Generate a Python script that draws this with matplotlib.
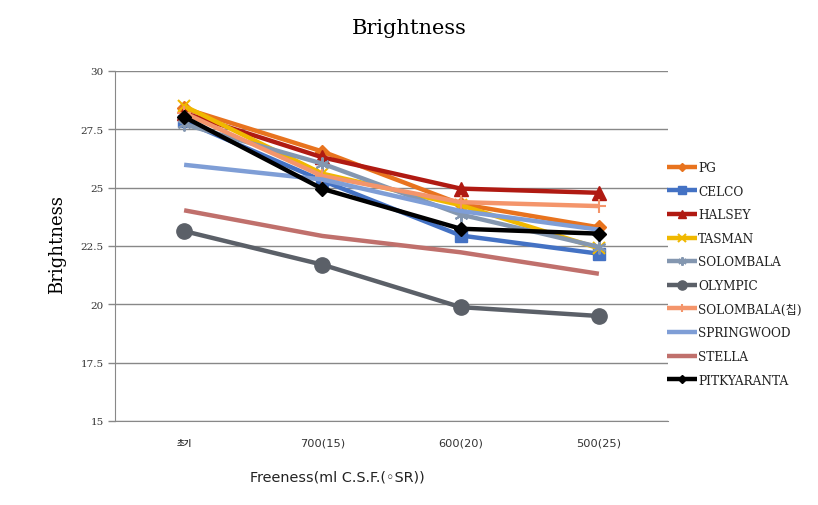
import matplotlib
matplotlib.use("Agg")
import matplotlib.pyplot as plt
from matplotlib.ticker import FixedLocator

categories = ["초기", "700(15)", "600(20)", "500(25)"]
series_names = ["PG", "CELCO", "HALSEY", "TASMAN", "SOLOMBALA", "OLYMPIC",
                "SOLOMBALA(칩)", "SPRINGWOOD", "STELLA", "PITKYARANTA"]
pg = [28.4, 26.55, 24.3, 23.3]
celco = [27.85, 25.3, 22.95, 22.17]
halsey = [28.2, 26.3, 24.96, 24.78]
tasman = [28.5, 25.6, 24.25, 22.4]
solombala = [27.72, 26.03, 23.85, 22.46]
olympic = [23.14, 21.7, 19.88, 19.5]
solombala_chip = [28.2, 25.5, 24.38, 24.21]
springwood = [25.98, 25.35, 24.0, 23.2]
stella = [24.03, 22.93, 22.23, 21.31]
pitkyaranta = [28.03, 24.95, 23.24, 23.03]
yticks = [15, 17.5, 20, 22.5, 25, 27.5, 30]
ytick_labels = ["15", "17.5", "20", "22.5", "25", "27.5", "30"]

values = [pg, celco, halsey, tasman, solombala, olympic, solombala_chip,
          springwood, stella, pitkyaranta]
colors = ["#E8731E", "#4472C4", "#B01A12", "#F0B800", "#8497B0", "#5B6068",
          "#F4956B", "#7F9ED6", "#C0706C", "#000000"]
markers = ["D", "s", "^", "x", (6, 2, 0), "o", "+", None, None, "D"]
msizes = [7, 9, 10, 9, 10, 11, 10, 0, 0, 7]

fig = plt.figure(figsize=(8.18, 5.06), dpi=100)
ax = fig.add_axes([115/818, 1-422/506, (668-115)/818, (422-72)/506])

x = list(range(len(categories)))
handles = []
for name, vals, c, m, ms in zip(series_names, values, colors, markers, msizes):
    kw = dict(color=c, lw=3.2, solid_capstyle="butt")
    if m is not None:
        kw.update(marker=m, markersize=ms, markerfacecolor=c, markeredgecolor=c,
                  markeredgewidth=1.5 if m in ("x", "+", (6, 2, 0)) else 1)
    h, = ax.plot(x, vals, label=name, **kw)
    handles.append(h)

ax.set_xlim(-0.5, 3.5)
ax.set_ylim(15, 30)
ax.yaxis.set_major_locator(FixedLocator(yticks))
ax.set_yticklabels(ytick_labels, family="DejaVu Serif", fontsize=7.5, color="#333333")
ax.set_xticks(x)
ax.set_xticklabels(categories, fontsize=8.2, color="#333333")
ax.get_xticklabels()[0].set_family(["Noto Sans CJK KR", "DejaVu Sans"])
ax.get_xticklabels()[0].set_fontsize(6)
ax.get_xticklabels()[0].set_fontweight("bold")
ax.tick_params(axis="x", length=0, pad=12)
ax.tick_params(axis="y", length=5, width=1, color="#888888", pad=3)
ax.grid(axis="y", color="#888888", lw=1)
ax.set_axisbelow(True)
ax.spines["right"].set_visible(False)
ax.spines["top"].set_visible(False)
ax.spines["left"].set_color("#888888")
ax.spines["bottom"].set_color("#888888")

fig.text(0.5, 1-28/506, "Brightness", family="DejaVu Serif", fontsize=15,
         ha="center", va="center")
fig.text(57/818, 1-245/506, "Brightness", family="DejaVu Serif", fontsize=13,
         rotation=90, ha="center", va="center")
fig.text(337/818, 1-478/506, "Freeness(ml C.S.F.(\u25e6SR))", family="DejaVu Sans",
         fontsize=10.4, ha="center", va="center", color="#222222")

leg = fig.legend(handles=handles, loc="upper left", bbox_to_anchor=(656/818, 1-151/506),
                 frameon=False, handlelength=2.5, handletextpad=0.1,
                 labelspacing=0.88, markerscale=0.6,
                 prop={"family": ["DejaVu Serif", "Noto Sans CJK KR"], "size": 8.7})
for t in leg.get_texts():
    t.set_color("#222222")

fig.savefig("out.png", dpi=100)
